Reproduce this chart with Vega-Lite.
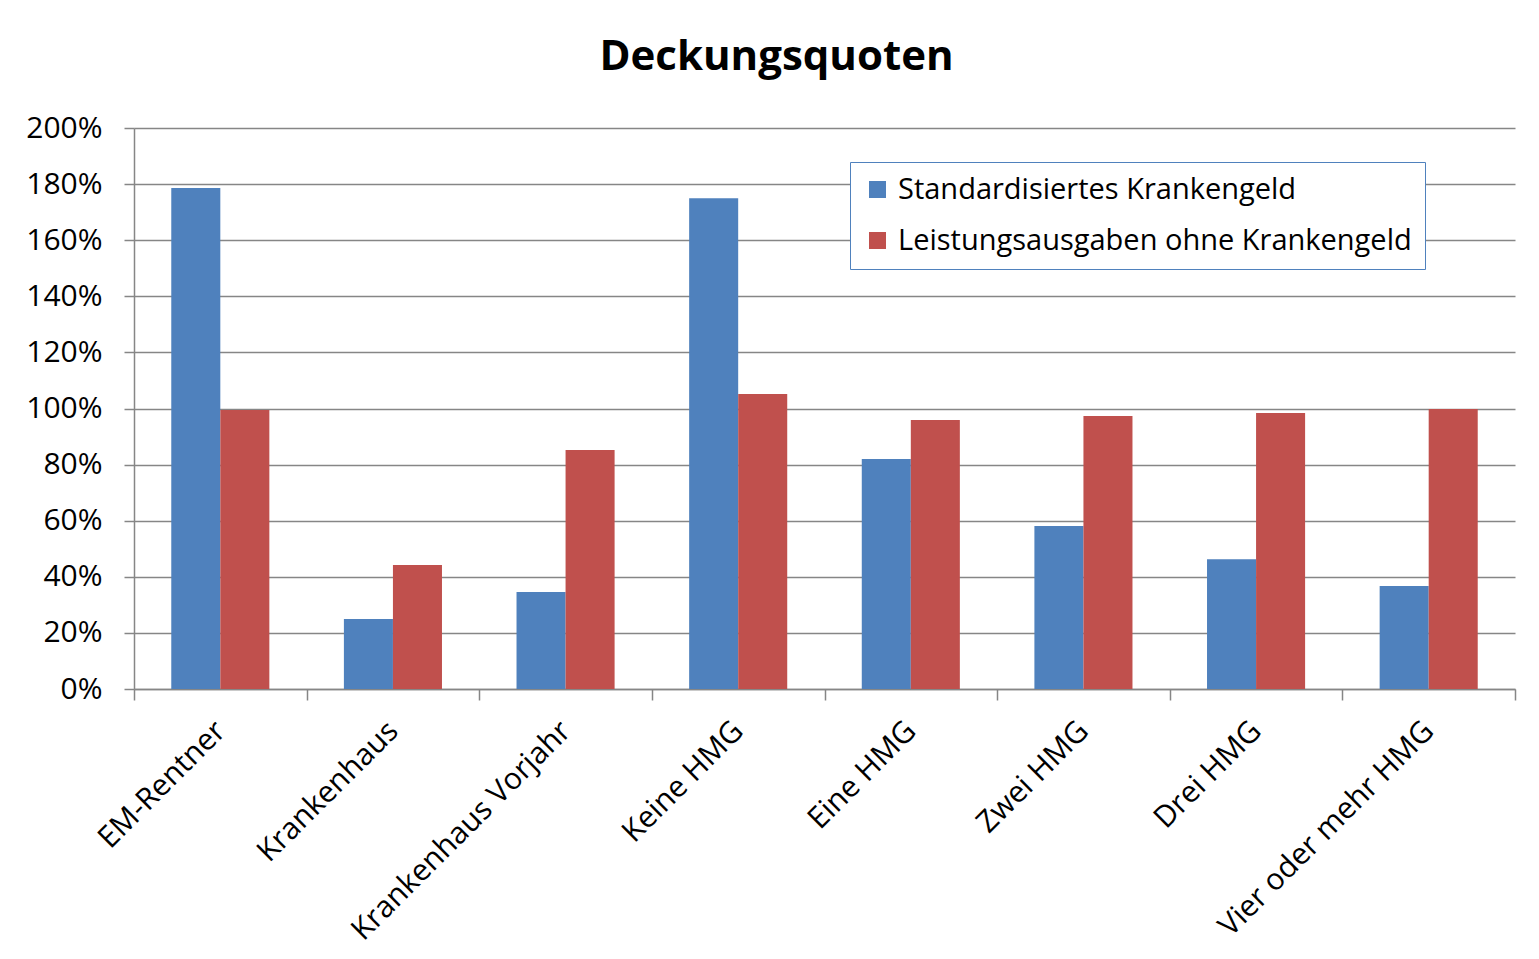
{
  "$schema": "https://vega.github.io/schema/vega-lite/v6.json",
  "width": 1381,
  "height": 561,
  "autosize": {"type": "none"},
  "padding": {"left": 134, "top": 128, "right": 24, "bottom": 270},
  "background": "white",
  "title": {
    "text": "Deckungsquoten",
    "font": "Open Sans",
    "fontSize": 42,
    "fontWeight": "bold",
    "color": "black",
    "anchor": "middle",
    "dx": -48,
    "offset": 34
  },
  "data": {
    "values": [
      {"kategorie": "EM-Rentner", "reihe": "Standardisiertes Krankengeld", "wert": 1.786},
      {"kategorie": "EM-Rentner", "reihe": "Leistungsausgaben ohne Krankengeld", "wert": 0.995},
      {"kategorie": "Krankenhaus", "reihe": "Standardisiertes Krankengeld", "wert": 0.25},
      {"kategorie": "Krankenhaus", "reihe": "Leistungsausgaben ohne Krankengeld", "wert": 0.442},
      {"kategorie": "Krankenhaus Vorjahr", "reihe": "Standardisiertes Krankengeld", "wert": 0.346},
      {"kategorie": "Krankenhaus Vorjahr", "reihe": "Leistungsausgaben ohne Krankengeld", "wert": 0.852},
      {"kategorie": "Keine HMG", "reihe": "Standardisiertes Krankengeld", "wert": 1.75},
      {"kategorie": "Keine HMG", "reihe": "Leistungsausgaben ohne Krankengeld", "wert": 1.052},
      {"kategorie": "Eine HMG", "reihe": "Standardisiertes Krankengeld", "wert": 0.82},
      {"kategorie": "Eine HMG", "reihe": "Leistungsausgaben ohne Krankengeld", "wert": 0.959},
      {"kategorie": "Zwei HMG", "reihe": "Standardisiertes Krankengeld", "wert": 0.581},
      {"kategorie": "Zwei HMG", "reihe": "Leistungsausgaben ohne Krankengeld", "wert": 0.973},
      {"kategorie": "Drei HMG", "reihe": "Standardisiertes Krankengeld", "wert": 0.463},
      {"kategorie": "Drei HMG", "reihe": "Leistungsausgaben ohne Krankengeld", "wert": 0.984},
      {"kategorie": "Vier oder mehr HMG", "reihe": "Standardisiertes Krankengeld", "wert": 0.367},
      {"kategorie": "Vier oder mehr HMG", "reihe": "Leistungsausgaben ohne Krankengeld", "wert": 0.998}
    ]
  },
  "mark": {"type": "bar"},
  "encoding": {
    "x": {
      "field": "kategorie",
      "type": "nominal",
      "sort": null,
      "scale": {"paddingInner": 0, "paddingOuter": 0},
      "axis": {
        "title": null,
        "labelAngle": -45,
        "labelAlign": "right",
        "labelBaseline": "middle",
        "labelFont": "Open Sans",
        "labelFontSize": 30,
        "labelColor": "black",
        "labelPadding": 26,
        "labelLimit": 600,
        "tickBand": "extent",
        "tickSize": 11,
        "tickColor": "#868686",
        "domainColor": "#868686",
        "tickWidth": 1.5,
        "domainWidth": 1.5,
        "grid": false
      }
    },
    "xOffset": {
      "field": "reihe",
      "type": "nominal",
      "sort": ["Standardisiertes Krankengeld", "Leistungsausgaben ohne Krankengeld"],
      "scale": {"paddingInner": 0, "paddingOuter": 0.76}
    },
    "y": {
      "field": "wert",
      "type": "quantitative",
      "scale": {"domain": [0, 2], "nice": false},
      "axis": {
        "title": null,
        "values": [0, 0.2, 0.4, 0.6, 0.8, 1.0, 1.2, 1.4, 1.6, 1.8, 2.0],
        "format": ".0%",
        "labelFont": "Open Sans",
        "labelFontSize": 30,
        "labelColor": "black",
        "labelPadding": 22,
        "tickSize": 10,
        "tickColor": "#868686",
        "domainColor": "#868686",
        "gridColor": "#868686",
        "tickWidth": 1.5,
        "domainWidth": 1.5,
        "gridWidth": 1.5,
        "grid": true
      }
    },
    "color": {
      "field": "reihe",
      "type": "nominal",
      "scale": {
        "domain": ["Standardisiertes Krankengeld", "Leistungsausgaben ohne Krankengeld"],
        "range": ["#4F81BD", "#C0504D"]
      },
      "legend": {
        "title": null,
        "orient": "none",
        "legendX": 716,
        "legendY": 34,
        "symbolType": "square",
        "symbolSize": 289,
        "symbolStrokeWidth": 0,
        "labelFont": "Open Sans",
        "labelFontSize": 29,
        "labelColor": "black",
        "labelOffset": 6,
        "labelLimit": 700,
        "rowPadding": 21,
        "padding": 13,
        "strokeColor": "#4F81BD",
        "fillColor": "white"
      }
    }
  },
  "config": {
    "view": {"stroke": null}
  }
}
